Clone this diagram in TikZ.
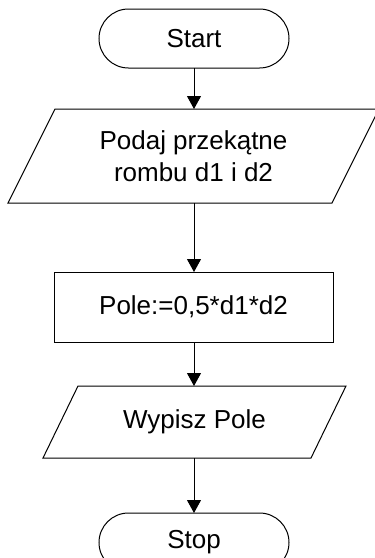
\documentclass[tikz,border=0pt]{standalone}
\usepackage{fontspec}
\setmainfont{Liberation Sans}
\usetikzlibrary{shapes.misc,arrows.meta,calc}
\begin{document}
\begin{tikzpicture}[x=1pt,y=-1pt,
  every node/.style={font=\fontsize{26pt}{32.5pt}\selectfont, align=center, inner sep=0pt, outer sep=0pt},
  terminal/.style={draw, line width=1pt, rounded rectangle, minimum width=190pt, minimum height=59pt},
  procbox/.style={draw, line width=1pt, rectangle, minimum width=279pt, minimum height=70pt},
  iobox/.style={rectangle, minimum width=#1},
  outline/.style={line width=1pt, line join=miter},
  flow/.style={line width=1pt, -{Triangle[length=13pt,width=14pt]}}
]
\useasboundingbox (0,0) rectangle (375,558);
\clip (0,0) rectangle (375,558);

\node[terminal] (start) at (194,38.5) {Start};

\node[iobox=371pt, minimum height=94pt] (in) at (193.5,156) {Podaj przekątne\\rombu d1 i d2};
\draw[outline] ($(in.north west)+(47,0)$) -- (in.north east) -- ($(in.south east)-(47,0)$) -- (in.south west) -- cycle;

\node[procbox] (calc) at (193.5,307) {Pole:=0,5*d1*d2};

\node[iobox=303pt, minimum height=72pt] (out) at (194.5,422) {Wypisz Pole};
\draw[outline] ($(out.north west)+(35,0)$) -- (out.north east) -- ($(out.south east)-(35,0)$) -- (out.south west) -- cycle;

\node[terminal] (stop) at (194,542.5) {Stop};

\draw[flow] (start.south) -- (start.south |- in.north);
\draw[flow] (start.south |- in.south) -- (start.south |- calc.north);
\draw[flow] (start.south |- calc.south) -- (start.south |- out.north);
\draw[flow] (start.south |- out.south) -- (stop.north);
\end{tikzpicture}
\end{document}
